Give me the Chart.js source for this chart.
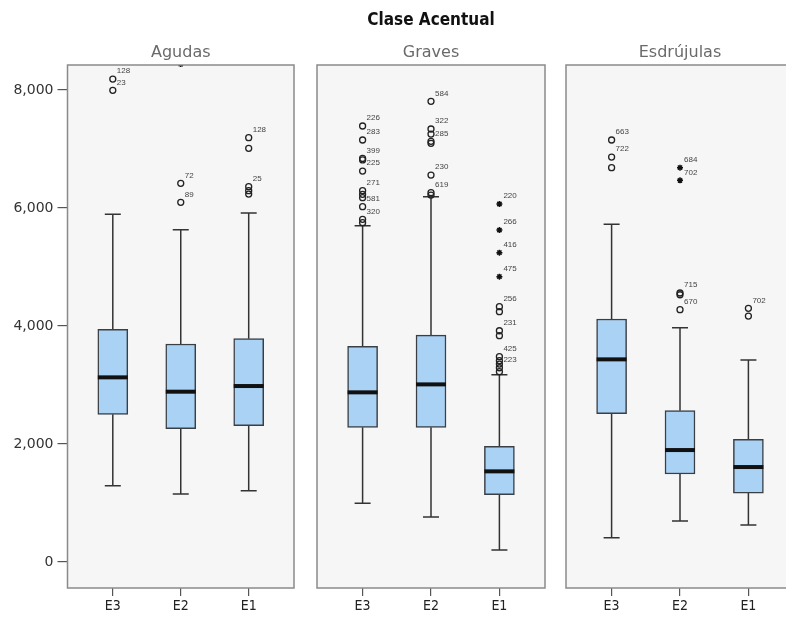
<!DOCTYPE html>
<html>
<head>
<meta charset="utf-8">
<script src="https://cdn.jsdelivr.net/npm/chart.js@4.4.0/dist/chart.umd.min.js"></script>
<style>
  body { margin: 0; background: #fff; overflow: hidden; }
  #wrap { position: relative; width: 786px; height: 621px; overflow: hidden; }
  #wrap canvas { position: absolute; top: 0; }
</style>
</head>
<body>
<div id="wrap">
  <canvas id="c0" width="300" height="621" style="left:0"></canvas>
  <canvas id="c1" width="240" height="621" style="left:311px"></canvas>
  <canvas id="c2" width="240" height="621" style="left:560px"></canvas>
</div>
<script>
const chartTitle = 'Clase Acentual';
const panels = ['Agudas', 'Graves', 'Esdrújulas'];
const groups = ['E3', 'E2', 'E1'];
const yTicks = [0, 2000, 4000, 6000, 8000];

// one row per panel, one value per group (E3, E2, E1)
const whiskerLow = [[1294, 1153, 1209], [995, 763, 203], [412, 695, 627]];
const q1 = [[2503, 2260, 2311], [2283, 2283, 1141], [2514, 1492, 1169]];
const median = [[3130, 2887, 2983], [2876, 3011, 1537], [3435, 1898, 1610]];
const q3 = [[3944, 3695, 3786], [3655, 3847, 1960], [4119, 2565, 2079]];
const whiskerHigh = [[5893, 5633, 5915], [5700, 6192, 3175], [5723, 3972, 3424]];

// outliers (circles) and extremes (stars), with case numbers
const outlierValues = [
  [[8186, 7994], [6418, 6096], [7192, 7011, 6362, 6294, 6237]],
  [[7390, 7153, 6840, 6815, 6627, 6294, 6232, 6175, 6023, 5808, 5751],
   [7808, 7339, 7254, 7130, 7096, 6559, 6260, 6220],
   [4328, 4243, 3920, 3836, 3480, 3412, 3356, 3293, 3226]],
  [[7153, 6864, 6684], [4560, 4530, 4277], [4300, 4169]]
];
const outlierIds = [
  [['128', '23'], ['72', '89'], ['128', '', '25', '', '']],
  [['226', '283', '399', '', '225', '271', '', '', '581', '320', ''],
   ['584', '322', '', '285', '', '230', '619', ''],
   ['256', '', '231', '', '425', '', '', '223', '']],
  [['663', '722', ''], ['715', '', '670'], ['702', '']]
];
const extremeValues = [
  [[], [8440], []],
  [[], [], [6068, 5627, 5243, 4836]],
  [[], [6684, 6469], []]
];
const extremeIds = [
  [[], [''], []],
  [[], [], ['220', '266', '416', '475']],
  [[], ['684', '702'], []]
];

function points(values, ids, p) {
  const out = [];
  groups.forEach((g, i) => {
    values[p][i].forEach((v, k) => out.push({ x: i, y: v, id: ids[p][i][k] }));
  });
  return out;
}

function boxPlugin(p) {
  return {
    id: 'boxes' + p,
    beforeDraw(chart) {
      const a = chart.chartArea, ctx = chart.ctx;
      ctx.save();
      ctx.fillStyle = '#f6f6f6';
      ctx.fillRect(a.left, a.top, a.right - a.left, a.bottom - a.top);
      ctx.restore();
    },
    beforeDatasetsDraw(chart) {
      const { ctx, scales: { x, y } } = chart;
      ctx.save();
      ctx.strokeStyle = '#333';
      ctx.lineWidth = 1.5;
      groups.forEach((g, i) => {
        const px = x.getPixelForValue(i);
        ctx.beginPath();
        ctx.moveTo(px, y.getPixelForValue(whiskerLow[p][i]));
        ctx.lineTo(px, y.getPixelForValue(q1[p][i]));
        ctx.moveTo(px, y.getPixelForValue(q3[p][i]));
        ctx.lineTo(px, y.getPixelForValue(whiskerHigh[p][i]));
        [whiskerLow, whiskerHigh].forEach(arr => {
          const py = y.getPixelForValue(arr[p][i]);
          ctx.moveTo(px - 8, py);
          ctx.lineTo(px + 8, py);
        });
        ctx.stroke();
      });
      ctx.restore();
    },
    afterDatasetsDraw(chart) {
      const { ctx, chartArea: a, scales: { x, y } } = chart;
      ctx.save();
      // medians
      ctx.strokeStyle = '#111';
      ctx.lineWidth = 4;
      groups.forEach((g, i) => {
        const px = x.getPixelForValue(i), py = y.getPixelForValue(median[p][i]);
        ctx.beginPath();
        ctx.moveTo(px - 15, py);
        ctx.lineTo(px + 15, py);
        ctx.stroke();
      });
      // case numbers
      ctx.fillStyle = '#444';
      ctx.font = '8px "Liberation Sans"';
      ctx.textBaseline = 'middle';
      chart.data.datasets.forEach(ds => {
        if (ds.type !== 'scatter') return;
        ds.data.forEach(d => {
          if (!d.id) return;
          ctx.fillText(d.id, x.getPixelForValue(d.x) + 4, y.getPixelForValue(d.y) - 8);
        });
      });
      // panel frame
      ctx.strokeStyle = '#8a8a8a';
      ctx.lineWidth = 1.5;
      ctx.strokeRect(a.left, a.top, a.right - a.left, a.bottom - a.top);
      ctx.restore();
    }
  };
}

function makeChart(p) {
  const withAxis = p === 0;
  return new Chart(document.getElementById('c' + p), {
    type: 'bar',
    data: {
      datasets: [
        {
          data: groups.map((g, i) => ({ x: i, y: [q1[p][i], q3[p][i]] })),
          backgroundColor: '#a9d2f4',
          borderColor: '#3a3f45',
          borderWidth: 1.5,
          borderSkipped: false,
          barThickness: 30,
          order: 2
        },
        {
          type: 'scatter',
          data: points(outlierValues, outlierIds, p),
          pointStyle: 'circle',
          pointRadius: 3,
          borderWidth: 1.3,
          borderColor: '#222',
          backgroundColor: 'rgba(0,0,0,0)',
          order: 1
        },
        {
          type: 'scatter',
          data: points(extremeValues, extremeIds, p),
          pointStyle: 'star',
          pointRadius: 3,
          borderWidth: 1.5,
          borderColor: '#111',
          backgroundColor: '#111',
          order: 1
        }
      ]
    },
    options: {
      responsive: false,
      animation: false,
      events: [],
      layout: {
        padding: { top: p === 1 ? 10 : 43, left: withAxis ? 0 : 6, right: 6, bottom: 0 }
      },
      plugins: {
        legend: { display: false },
        tooltip: { enabled: false },
        title: {
          display: p === 1,
          text: chartTitle,
          color: '#111',
          font: { family: '"DejaVu Sans Condensed"', size: 17, weight: 'bold', lineHeight: 1.2 },
          padding: { top: 0, bottom: 12.6 }
        },
        subtitle: {
          display: true,
          fullSize: false,
          text: panels[p],
          color: '#6a6a6a',
          font: { family: '"DejaVu Sans"', size: 16, lineHeight: 1.2 },
          padding: { top: 0, bottom: 2.8 }
        }
      },
      scales: {
        x: {
          type: 'linear',
          min: -2 / 3,
          max: 8 / 3,
          offset: false,
          afterBuildTicks: s => { s.ticks = groups.map((g, i) => ({ value: i })); },
          afterFit: s => { s.height = 33; },
          grid: { drawOnChartArea: false, drawTicks: true, tickLength: 8, offset: false, color: '#555', lineWidth: 1.2 },
          border: { display: false },
          ticks: {
            callback: (v, i) => groups[i],
            color: '#222',
            padding: 2,
            maxRotation: 0,
            font: { family: '"DejaVu Sans Condensed"', size: 14 }
          }
        },
        y: {
          display: withAxis,
          min: -440,
          max: 8424,
          afterBuildTicks: s => { s.ticks = yTicks.map(v => ({ value: v })); },
          afterFit: s => { s.width = withAxis ? 67.5 : 0; },
          grid: { drawOnChartArea: false, drawTicks: true, tickLength: 10, color: '#555', lineWidth: 1.2 },
          border: { display: false },
          ticks: {
            callback: v => v.toLocaleString('en-US'),
            color: '#333',
            padding: 4,
            font: { family: '"DejaVu Sans"', size: 14 }
          }
        }
      }
    },
    plugins: [boxPlugin(p)]
  });
}

panels.forEach((name, p) => makeChart(p));
</script>
</body>
</html>
